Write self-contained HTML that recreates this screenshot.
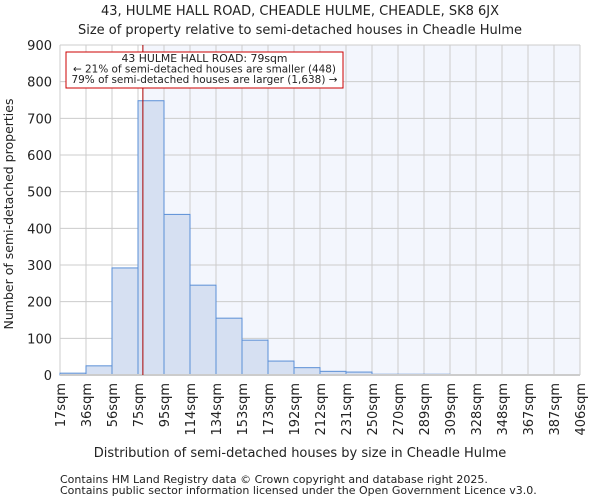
<!DOCTYPE html>
<html><head><meta charset="utf-8"><style>
body{margin:0;background:#fff;font-family:"DejaVu Sans","Liberation Sans",sans-serif;}
svg text{font-family:"DejaVu Sans","Liberation Sans",sans-serif;fill:#222;}
</style></head><body>
<svg id="c" width="600" height="500">
<text x="300" y="15" text-anchor="middle" font-size="13">43, HULME HALL ROAD, CHEADLE HULME, CHEADLE, SK8 6JX</text>
<text x="300" y="34" text-anchor="middle" font-size="13">Size of property relative to semi-detached houses in Cheadle Hulme</text>
<g id="plot"></g>
<text transform="translate(13,214) rotate(-90)" text-anchor="middle" font-size="12.5">Number of semi-detached properties</text>
<text x="300" y="457" text-anchor="middle" font-size="13">Distribution of semi-detached houses by size in Cheadle Hulme</text>
<text x="60" y="483" font-size="11" fill="#444">Contains HM Land Registry data © Crown copyright and database right 2025.</text>
<text x="60" y="494" font-size="11" fill="#444">Contains public sector information licensed under the Open Government Licence v3.0.</text>
</svg>
<script>
const tickLabels=["17sqm","36sqm","56sqm","75sqm","95sqm","114sqm","134sqm","153sqm","173sqm","192sqm","212sqm","231sqm","250sqm","270sqm","289sqm","309sqm","328sqm","348sqm","367sqm","387sqm","406sqm"];
const counts=[5,25,292,748,438,245,155,95,38,20,10,8,2,2,2,0,0,0,0,0];
const yTicks=[0,100,200,300,400,500,600,700,800,900];
const propertySize=79;
const binStart=17, binWidth=19.45;
const L=60,R=580,T=45,B=375,yMax=900;
const NS="http://www.w3.org/2000/svg";
const g=document.getElementById('plot');
const nb=counts.length;
const xb=i=>L+(R-L)*i/nb;
const xs=v=>L+(R-L)*(v-binStart)/(binWidth*nb);
const y=v=>B-(B-T)*v/yMax;
function mk(t,a){const e=document.createElementNS(NS,t);for(const k in a)e.setAttribute(k,a[k]);g.appendChild(e);return e;}
const px=xs(propertySize);
let bg=mk('rect',{x:px,y:T,width:R-px,height:B-T,fill:'#f3f6fd'});


yTicks.forEach(v=>{
 const l=mk('line',{x1:L,x2:R,y1:y(v),y2:y(v),stroke:'#ccc'});
 
 
 const t=mk('text',{x:L-8,y:y(v)+5,'text-anchor':'end','font-size':13});
 t.textContent=v;
 
 
});
tickLabels.forEach((s,i)=>{
 const x=xb(i);
 const l=mk('line',{x1:x,x2:x,y1:T,y2:B,stroke:'#ccc'});
 
 
 const t=mk('text',{transform:`translate(${x+5},${B+8}) rotate(-90)`,'text-anchor':'end','font-size':13});
 t.textContent=s;
 
 
});
counts.forEach((c,i)=>{
 if(c<=0)return;
 const r=mk('rect',{x:xb(i),y:y(c),width:xb(i+1)-xb(i),height:B-y(c),fill:'#d6e0f2',stroke:'#5b8fd6','stroke-width':1});
 
 
});
const ax=mk('line',{x1:L,x2:R,y1:B,y2:B,stroke:'#ccc','stroke-width':2});


const pl=mk('line',{x1:px,x2:px,y1:T,y2:B,stroke:'#aa0000','stroke-width':1});


const box=mk('rect',{x:66,y:52,width:277,height:36,fill:'#fff',stroke:'#cc0000'});


const lens=[166,263,266];
["43 HULME HALL ROAD: 79sqm","← 21% of semi-detached houses are smaller (448)","79% of semi-detached houses are larger (1,638) →"].forEach((s,i)=>{
 const t=mk('text',{x:204.5,y:62+i*10.5,'text-anchor':'middle','font-size':10.5,textLength:lens[i],lengthAdjust:'spacingAndGlyphs'});
 t.textContent=s;
 
 
});
</script>
</body></html>
